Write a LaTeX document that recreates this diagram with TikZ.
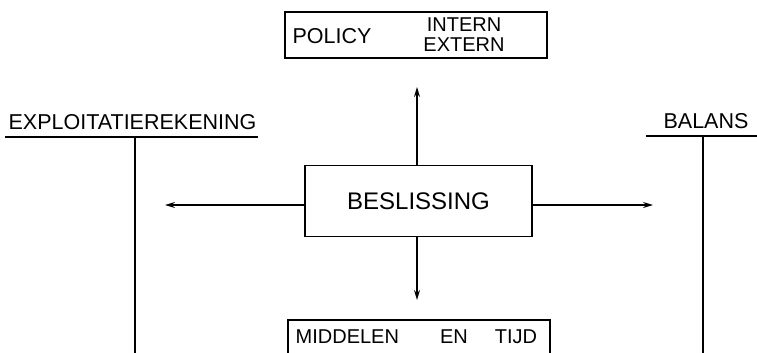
\documentclass[tikz,border=0pt]{standalone}
\usepackage{fontspec}
\setmainfont{Liberation Sans}
\usetikzlibrary{positioning,calc,arrows.meta}

\begin{document}
\begin{tikzpicture}[x=1pt, y=-1pt, line width=1.3pt,
    box/.style={draw, rectangle, inner sep=0pt},
    lbl/.style={inner sep=0pt, font=\fontsize{21.5}{24}\selectfont},
    small/.style={inner sep=0pt, font=\fontsize{20}{20}\selectfont},
    flow/.style={-{Stealth[length=10pt,width=6pt]}}]
    \useasboundingbox (0,0) rectangle (757,353);%
    % boxes
    \node[box, minimum width=262pt, minimum height=46pt] (policy) at (416,35) {};%
    \node[lbl, anchor=west] (pol) at (292,36) {POLICY};%
    \node[small, align=center] (intext) at (464,35) {INTERN\\EXTERN};%
    \node[box, minimum width=227pt, minimum height=71pt, lbl,
    font=\fontsize{24}{24}\selectfont] (besl) at (418.5,201) {BESLISSING};%
    \node[box, minimum width=262pt, minimum height=46pt] (midd) at (419,343) {};%
    \node[small, anchor=west] (middA) at (295,337) {MIDDELEN};%
    \node[small] (middB) at (454,337) {EN};%
    \node[small] (middC) at (516,337) {TIJD};%
    % side headings
    \node[lbl, anchor=west] (expl) at (8,122) {EXPLOITATIEREKENING};%
    \node[lbl] (bal) at (706,121) {BALANS};%
    \coordinate (explL) at (5,137);%
    \coordinate (explR) at (258,137);%
    \coordinate (explT) at (135,137);%
    \coordinate (explB) at (135,353);%
    \coordinate (balL) at (646,136);%
    \coordinate (balR) at (757,136);%
    \coordinate (balT) at (703,136);%
    \coordinate (balB) at (703,353);%
    \draw[line width=2.4pt] (explL) -- (explR);%
    \draw[line width=2.4pt] (balL) -- (balR);%
    \draw (explT) -- (explB);%
    \draw (balT) -- (balB);%
    % arrows from the decision
    \coordinate (up) at (417,87);%
    \coordinate (left) at (165,205);%
    \coordinate (right) at (653,205);%
    \coordinate (down) at (417,300);%
    \draw[flow] (besl.north -| up) -- (up);%
    \draw[flow] (besl.west |- left) -- (left);%
    \draw[flow] (besl.east |- right) -- (right);%
    \draw[flow] (besl.south -| down) -- (down);%
\end{tikzpicture}
\end{document}
